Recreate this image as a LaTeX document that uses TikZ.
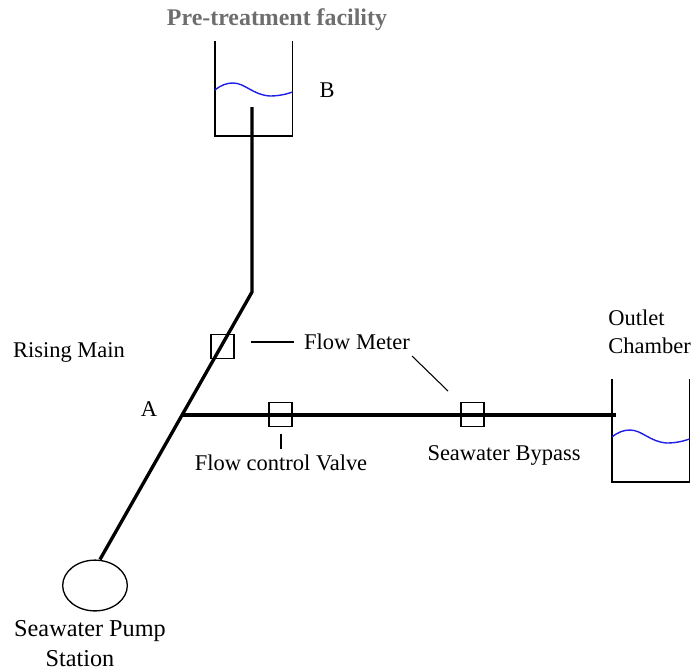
\documentclass[tikz,border=0pt]{standalone}
\usepackage{xcolor}
\usepackage{fontspec}
\usetikzlibrary{shapes.geometric}
\setmainfont{Liberation Serif}
\definecolor{titlegrey}{RGB}{110,110,110}
\definecolor{waterblue}{RGB}{30,30,230}
\tikzset{
    pipe/.style={line width=1.9pt, black},
    wall/.style={line width=0.75pt, black},
    water/.style={line width=0.8pt, waterblue},
    leader/.style={line width=0.6pt, black},
    unitbox/.style={draw, wall, minimum width=13pt, minimum height=14pt, inner sep=0pt},
    plainlabel/.style={inner sep=0pt, font=\fontsize{12.8}{14}\selectfont}
}
\begin{document}
\begin{tikzpicture}[x=0.02cm, y=-0.02cm]
    \useasboundingbox (0,0) rectangle (692,670);

    % Pipe junctions
    \coordinate (inlet) at (252,107);
    \coordinate (bend) at (252,292);
    \coordinate (junctionA) at (182,415);
    \coordinate (bypassEnd) at (616,415);

    % Pump station
    \node[draw, wall, ellipse, minimum width=36.8pt, minimum height=28.9pt, inner sep=0pt] (pump) at (95,585.5) {};

    % Rising main and bypass
    \draw[pipe] (pump.north) ++(5,0) coordinate (pumpTop) -- (bend) -- (inlet);
    \draw[pipe] (junctionA) -- (bypassEnd);

    % Tanks
    \foreach \name/\xa/\ya/\yb in {tankB/215/41/136, tankOut/612/379/482} {
        \coordinate (\name TL) at (\xa,\ya);
        \coordinate (\name BL) at (\xa,\yb);
        \coordinate (\name BR) at (\xa+77.5,\yb);
        \coordinate (\name TR) at (\xa+77.5,\ya);
        \draw[wall] (\name TL) -- (\name BL) -- (\name BR) -- (\name TR);
    }

    % Water levels
    \foreach \xa/\ya in {215/90, 612/437} {
        \draw[water] (\xa,\ya) .. controls (\xa+6,\ya-5) and (\xa+12,\ya-7) .. (\xa+18,\ya-7)
            .. controls (\xa+30,\ya-7) and (\xa+38,\ya+5) .. (\xa+55,\ya+6)
            .. controls (\xa+64,\ya+6) and (\xa+72,\ya+4) .. (\xa+77.5,\ya+2);
    }

    % Meters and valve
    \node[unitbox] (meterMain) at (222.5,346.5) {};
    \node[unitbox] (valve) at (280.5,414.5) {};
    \node[unitbox] (meterBypass) at (472.5,414.5) {};

    % Labels
    \node[font=\bfseries\fontsize{13.6}{15}\selectfont, text=titlegrey, inner sep=0pt] (title) at (277,20) {Pre-treatment facility};
    \node[plainlabel] (labelB) at (327,90) {B};
    \node[plainlabel] (labelA) at (149,409) {A};
    \node[plainlabel] (rising) at (69,352) {Rising Main};
    \node[plainlabel] (flowmeter) at (357,342) {Flow Meter};
    \node[plainlabel] (flowvalve) at (281,463) {Flow control Valve};
    \node[plainlabel] (bypass) at (504,455) {Seawater Bypass};
    \node[plainlabel, anchor=west] (outlet) at (608,318) {Outlet};
    \node[plainlabel, anchor=west] (chamber) at (608,346) {Chamber};
    \node[plainlabel, font=\fontsize{13.8}{15}\selectfont] (pumpname) at (90,631) {Seawater Pump};
    \node[plainlabel, font=\fontsize{13.8}{15}\selectfont] (station) at (80,659) {Station};

    % Leader lines
    \coordinate (leadA) at (251,342);
    \coordinate (leadB) at (294,342);
    \coordinate (leadC) at (412,356);
    \coordinate (leadD) at (448,391);
    \coordinate (leadE) at (281,434);
    \coordinate (leadF) at (281,449);
    \draw[leader] (leadA) -- (leadB);
    \draw[leader] (leadC) -- (leadD);
    \draw[leader] (leadE) -- (leadF);
\end{tikzpicture}
\end{document}
